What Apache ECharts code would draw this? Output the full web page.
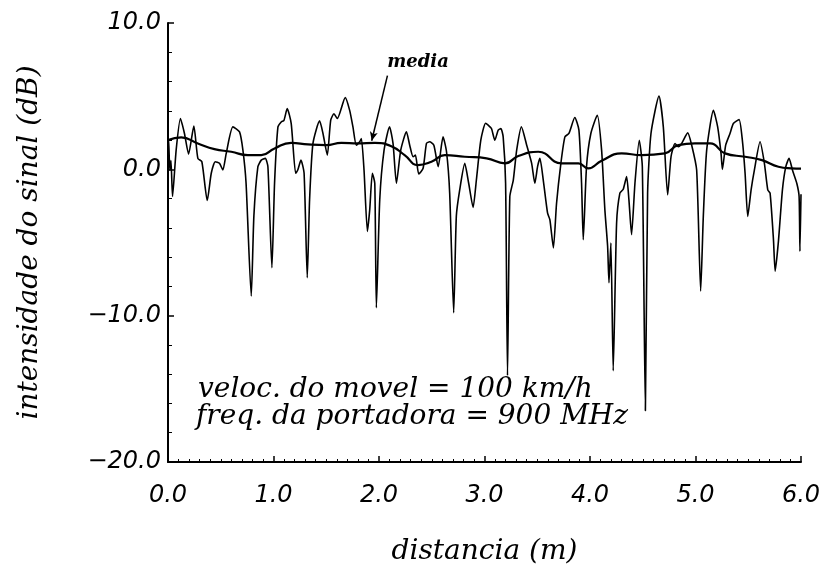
<!DOCTYPE html>
<html>
<head>
<meta charset="utf-8">
<script src="https://cdn.jsdelivr.net/npm/echarts@6/dist/echarts.min.js"></script>
<style>
  html, body { margin: 0; padding: 0; background: #fff; }
  #chart { width: 825px; height: 571px; }
</style>
</head>
<body>
<div id="chart"></div>
<script>
// sinal recebido (dB) ao longo da distancia (m)
var distSignal = [0.0, 0.005, 0.017, 0.028, 0.043, 0.077, 0.118, 0.156, 0.195, 0.245,
  0.283, 0.321, 0.372, 0.41, 0.448, 0.488, 0.52, 0.552, 0.615, 0.678,
  0.71, 0.74, 0.789, 0.814, 0.852, 0.884, 0.922, 0.947, 0.985, 1.01,
  1.042, 1.073, 1.099, 1.13, 1.168, 1.21, 1.23, 1.26, 1.29, 1.32,
  1.342, 1.374, 1.437, 1.469, 1.51, 1.542, 1.573, 1.605, 1.68, 1.722,
  1.753, 1.785, 1.817, 1.833, 1.858, 1.89, 1.912, 1.937, 1.96, 1.975,
  2.007, 2.048, 2.1, 2.133, 2.165, 2.206, 2.26, 2.291, 2.323, 2.345,
  2.377, 2.418, 2.45, 2.48, 2.52, 2.561, 2.607, 2.64, 2.67, 2.708,
  2.733, 2.765, 2.813, 2.85, 2.892, 2.923, 2.965, 3.01, 3.035, 3.066,
  3.098, 3.13, 3.155, 3.177, 3.2, 3.218, 3.24, 3.273, 3.305, 3.35,
  3.4, 3.447, 3.477, 3.503, 3.525, 3.557, 3.598, 3.62, 3.653, 3.683,
  3.724, 3.762, 3.8, 3.856, 3.895, 3.92, 3.936, 3.967, 4.008, 4.069,
  4.11, 4.141, 4.167, 4.18, 4.198, 4.22, 4.252, 4.283, 4.315, 4.347,
  4.369, 4.394, 4.426, 4.467, 4.496, 4.525, 4.546, 4.578, 4.654, 4.695,
  4.736, 4.768, 4.806, 4.837, 4.869, 4.926, 4.964, 5.011, 5.049, 5.074,
  5.106, 5.17, 5.21, 5.242, 5.255, 5.286, 5.327, 5.359, 5.413, 5.444,
  5.47, 5.495, 5.527, 5.558, 5.612, 5.653, 5.685, 5.707, 5.739, 5.755,
  5.786, 5.824, 5.856, 5.887, 5.919, 5.96, 5.982, 5.99, 6.0];
var signalDb = [2.0, 2.1, -0.05, 0.6, -1.86, 1.3, 3.47, 2.45, 1.04, 2.95,
  0.75, 0.52, -2.13, -0.27, 0.52, 0.41, -0.05, 1.09, 2.9, 2.56,
  1.31, -0.95, -8.66, -3.2, 0.18, 0.63, 0.75, 0.18, -6.73, -0.95,
  2.9, 3.24, 3.35, 4.15, 3.13, -0.27, -0.05, 0.63, -0.27, -7.41,
  -2.09, 1.77, 3.31, 2.45, 0.97, 3.35, 3.8, 3.47, 4.9, 4.03,
  2.9, 1.65, 1.88, 2.11, -0.05, -4.24, -2.77, -0.27, -0.95, -9.46,
  -2.09, 1.31, 2.9, 1.77, -0.95, 1.31, 2.56, 1.65, 0.86, 0.97,
  -0.32, 0.07, 1.77, 1.88, 1.65, 0.18, 2.22, 1.2, -1.63, -9.8,
  -3.2, -1.4, 0.41, -0.95, -2.6, -0.73, 1.99, 3.15, 3.02, 2.79,
  1.99, 2.68, 2.79, 2.22, -0.95, -14.1, -1.86, -0.73, 1.31, 2.9,
  1.65, 0.41, -0.95, 0.18, 0.75, -0.73, -3.0, -3.45, -5.37, -2.32,
  0.41, 2.22, 2.45, 3.54, 2.68, -0.95, -4.81, 0.18, 2.45, 3.7,
  1.31, -2.77, -5.26, -7.75, -5.03, -13.76, -3.68, -1.63, -1.36, -0.5,
  -2.09, -4.47, -0.95, 1.99, 0.18, -16.5, -1.63, 2.45, 5.0, 2.9,
  -1.75, 0.86, 1.77, 1.55, 1.77, 2.49, 1.65, -0.05, -8.32, -3.22,
  1.31, 4.03, 2.9, 1.09, 0.0, 1.65, 2.45, 3.13, 3.4, 1.99,
  -0.27, -3.22, -1.4, -0.05, 1.88, 0.41, -1.4, -1.63, -4.81, -6.96,
  -4.92, -1.4, 0.18, 0.75, -0.05, -0.95, -1.86, -5.6, -1.7];

// media local
var distMean = [0, 0.125, 0.283, 0.44, 0.6, 0.757, 0.884, 1.01, 1.168, 1.327,
  1.5, 1.643, 1.8, 1.96, 2.117, 2.243, 2.37, 2.497, 2.623, 2.813,
  3.02, 3.193, 3.32, 3.51, 3.73, 3.89, 3.983, 4.11, 4.3, 4.49,
  4.71, 4.837, 4.995, 5.14, 5.28, 5.47, 5.63, 5.786, 5.91, 6.0];
var meanDb = [2.0, 2.18, 1.77, 1.38, 1.2, 0.97, 0.97, 1.43, 1.81, 1.7,
  1.65, 1.81, 1.77, 1.81, 1.58, 0.97, 0.29, 0.52, 0.97, 0.86,
  0.75, 0.41, 0.91, 1.2, 0.41, 0.41, 0.07, 0.59, 1.09, 0.97,
  1.09, 1.65, 1.77, 1.77, 1.09, 0.86, 0.63, 0.18, 0.07, 0.05];

var xTicks = [0, 1, 2, 3, 4, 5, 6];
var yTicks = [-20, -10, 0, 10];

function pairs(xs, ys) {
  var out = [];
  for (var i = 0; i < xs.length; i++) out.push([xs[i], ys[i]]);
  return out;
}

function fmt(v) {
  var s = Math.abs(v).toFixed(1);
  return v < 0 ? '\u2212' + s : s;
}

var serif = 'DejaVu Serif';
var sans = 'DejaVu Sans';

var chart = echarts.init(document.getElementById('chart'), null, { renderer: 'canvas' });

chart.setOption({
  animation: false,
  backgroundColor: '#fff',
  grid: { left: 168, right: 24, top: 23, bottom: 107 },
  xAxis: {
    type: 'value',
    min: xTicks[0], max: xTicks[xTicks.length - 1], interval: 1,
    name: 'distancia (m)',
    nameLocation: 'middle',
    nameGap: 76,
    nameTextStyle: { color: '#000', fontFamily: serif, fontStyle: 'italic', fontSize: 28 },
    axisLine: { show: true, onZero: false, lineStyle: { color: '#000', width: 2 } },
    axisTick: { show: true, inside: true, length: 6, lineStyle: { color: '#000', width: 1.5 } },
    minorTick: { show: true, splitNumber: 10, length: 3, lineStyle: { color: '#000', width: 1 } },
    splitLine: { show: false },
    axisLabel: {
      margin: 22, color: '#000', fontFamily: sans, fontStyle: 'italic', fontSize: 24,
      formatter: fmt
    }
  },
  yAxis: {
    type: 'value',
    min: yTicks[0], max: yTicks[yTicks.length - 1], interval: 10,
    name: 'intensidade do sinal (dB)',
    nameLocation: 'middle',
    nameGap: 124,
    nameTextStyle: { color: '#000', fontFamily: serif, fontStyle: 'italic', fontSize: 28 },
    axisLine: { show: true, onZero: false, lineStyle: { color: '#000', width: 2 } },
    axisTick: { show: true, inside: true, length: 6, lineStyle: { color: '#000', width: 1.5 } },
    minorTick: { show: true, splitNumber: 5, length: 4, lineStyle: { color: '#000', width: 1 } },
    splitLine: { show: false },
    axisLabel: {
      margin: 7, color: '#000', fontFamily: sans, fontStyle: 'italic', fontSize: 24,
      formatter: fmt
    }
  },
  series: [
    {
      name: 'sinal',
      type: 'line',
      data: pairs(distSignal, signalDb),
      showSymbol: false,
      smooth: 0.2,
      lineStyle: { color: '#000', width: 1.6 }
    },
    {
      name: 'media',
      type: 'line',
      data: pairs(distMean, meanDb),
      showSymbol: false,
      smooth: 0.5,
      lineStyle: { color: '#000', width: 2.2 },
      markLine: {
        silent: true,
        symbol: ['none', 'arrow'],
        symbolSize: [6, 9],
        label: { show: false },
        lineStyle: { color: '#000', width: 1.5, type: 'solid' },
        data: [[{ coord: [2.08, 6.4] }, { coord: [1.931, 1.95] }]]
      },
      markPoint: {
        silent: true,
        symbol: 'circle',
        symbolSize: 1,
        itemStyle: { color: 'rgba(0,0,0,0)' },
        data: [{
          coord: [2.37, 7.3],
          label: {
            show: true, position: 'inside', formatter: 'media', color: '#000',
            fontFamily: serif, fontStyle: 'italic', fontWeight: 'bold', fontSize: 18
          }
        }]
      }
    }
  ],
  graphic: [
    {
      type: 'text', left: 198, top: 376,
      style: { text: 'veloc. do movel = 100 km/h', fill: '#000', font: 'italic 28px "DejaVu Serif"' }
    },
    {
      type: 'text', left: 196, top: 403,
      style: { text: 'freq. da portadora = 900 MHz', fill: '#000', font: 'italic 28px "DejaVu Serif"' }
    }
  ]
});
</script>
</body>
</html>
